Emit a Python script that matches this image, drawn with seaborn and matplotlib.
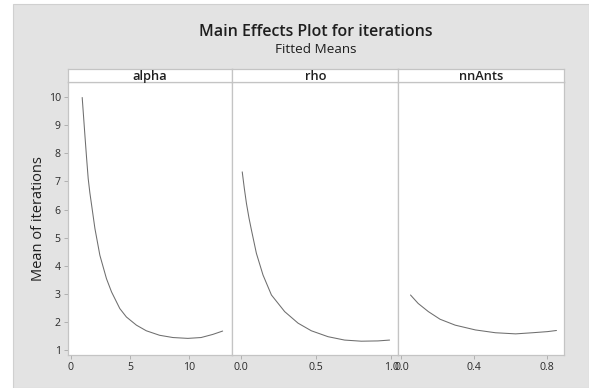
import numpy as np
import pandas as pd
import seaborn as sns
import matplotlib
matplotlib.use("Agg")
import matplotlib.pyplot as plt
from matplotlib.patches import Rectangle

# ---- data ----
factors = ["alpha", "rho", "nnAnts"]

alpha_x = [0.95, 1.05, 1.18, 1.32, 1.46, 1.60, 1.75, 2.03, 2.45, 3.01, 3.44, 4.14, 4.70, 5.55, 6.39, 7.52, 8.65, 9.92, 11.04, 12.03, 12.87]
alpha_y = [9.98, 9.40, 8.64, 7.85, 7.10, 6.60, 6.16, 5.33, 4.38, 3.55, 3.08, 2.49, 2.19, 1.90, 1.70, 1.54, 1.46, 1.43, 1.46, 1.57, 1.69]

rho_x = [0.01, 0.024, 0.038, 0.055, 0.071, 0.104, 0.148, 0.204, 0.292, 0.381, 0.469, 0.580, 0.690, 0.801, 0.912, 0.989]
rho_y = [7.34, 6.75, 6.22, 5.70, 5.28, 4.45, 3.68, 2.97, 2.38, 1.97, 1.70, 1.49, 1.37, 1.33, 1.34, 1.37]

nn_x = [0.05, 0.092, 0.148, 0.212, 0.295, 0.406, 0.516, 0.627, 0.719, 0.802, 0.851]
nn_y = [2.97, 2.67, 2.38, 2.11, 1.90, 1.73, 1.63, 1.59, 1.63, 1.67, 1.71]

y_ticks = [1, 2, 3, 4, 5, 6, 7, 8, 9, 10]
alpha_ticks = [0, 5, 10]
alpha_ticklabels = ["0", "5", "10"]
rho_ticks = [0.0, 0.5, 1.0]
rho_ticklabels = ["0.0", "0.5", "1.0"]
nn_ticks = [0.0, 0.4, 0.8]
nn_ticklabels = ["0.0", "0.4", "0.8"]

title = "Main Effects Plot for iterations"
subtitle = "Fitted Means"
ylabel = "Mean of iterations"

df = pd.concat([
    pd.DataFrame({"factor": "alpha", "level": alpha_x, "mean": alpha_y}),
    pd.DataFrame({"factor": "rho", "level": rho_x, "mean": rho_y}),
    pd.DataFrame({"factor": "nnAnts", "level": nn_x, "mean": nn_y}),
], ignore_index=True)

# ---- styling ----
sns.set_theme(style="white")
plt.rcParams["font.family"] = ["Open Sans", "DejaVu Sans"]

W, H = 589, 388
g = sns.relplot(data=df, x="level", y="mean", col="factor", col_order=factors,
                kind="line", color="#6e6e6e", linewidth=0.75, errorbar=None,
                facet_kws=dict(sharex=False, sharey=True), height=3, aspect=0.6)
fig = g.figure
fig.set_size_inches(W / 100, H / 100)
fig.set_dpi(100)
fig.patch.set_facecolor("white")

# gray backdrop
fig.patches.append(Rectangle((13 / W, 0), 1 - 13 / W, (H - 4.3) / H,
                             transform=fig.transFigure, facecolor="#E3E3E3",
                             edgecolor="#D0D0D0", linewidth=0.8, zorder=-10))

lefts = [67.7, 232.3, 398.3]
rights = [232.3, 398.3, 564.3]
bottom_px, top_px, strip_top_px = 355.0, 82.3, 69.0
xlims = [(-0.28, 13.69), (-0.056, 1.047), (-0.017, 0.894)]
ticks = [(alpha_ticks, alpha_ticklabels), (rho_ticks, rho_ticklabels), (nn_ticks, nn_ticklabels)]

frame_col = "#C4C4C4"
for i, ax in enumerate(g.axes.flat):
    l, r = lefts[i], rights[i]
    ax.set_position([l / W, 1 - bottom_px / H, (r - l) / W, (bottom_px - top_px) / H])
    ax.set_facecolor("white")
    ax.set_title("")
    ax.set_xlabel("")
    ax.set_ylabel("")
    ax.set_xlim(*xlims[i])
    ax.set_ylim(0.84, 10.52)
    ax.set_xticks(ticks[i][0])
    ax.set_xticklabels(ticks[i][1])
    for s in ax.spines.values():
        s.set_visible(True)
        s.set_color(frame_col)
        s.set_linewidth(0.9)
    ax.tick_params(axis="both", which="both", length=3, width=0.6, color="#A8A8A8",
                   labelsize=7.6, labelcolor="#2a2a2a", pad=2)
    if i == 0:
        ax.set_yticks(y_ticks)
        ax.set_yticklabels([str(v) for v in y_ticks])
        ax.tick_params(axis="y", left=True)
    else:
        ax.tick_params(axis="y", left=False, labelleft=False)
    ax.tick_params(axis="x", bottom=True)

    # strip
    sax = fig.add_axes([l / W, 1 - top_px / H, (r - l) / W, (top_px - strip_top_px) / H])
    sax.set_facecolor("white")
    sax.set_xticks([]); sax.set_yticks([])
    for s in sax.spines.values():
        s.set_color(frame_col)
        s.set_linewidth(0.9)
    sax.text(0.5, 0.45, factors[i], ha="center", va="center", fontsize=9.3,
             fontweight="semibold", color="#1e1e1e", transform=sax.transAxes)

fig.text(315.7 / W, 1 - 31.5 / H, title, ha="center", va="center", fontsize=11.5,
         fontweight="semibold", color="#1e1e1e")
fig.text(315.7 / W, 1 - 49.5 / H, subtitle, ha="center", va="center", fontsize=9.7,
         color="#1e1e1e")
fig.text(38 / W, 1 - 218.6 / H, ylabel, ha="center", va="center", rotation=90,
         fontsize=10.5, color="#1e1e1e")

fig.savefig("out.png", dpi=100, facecolor="white")
